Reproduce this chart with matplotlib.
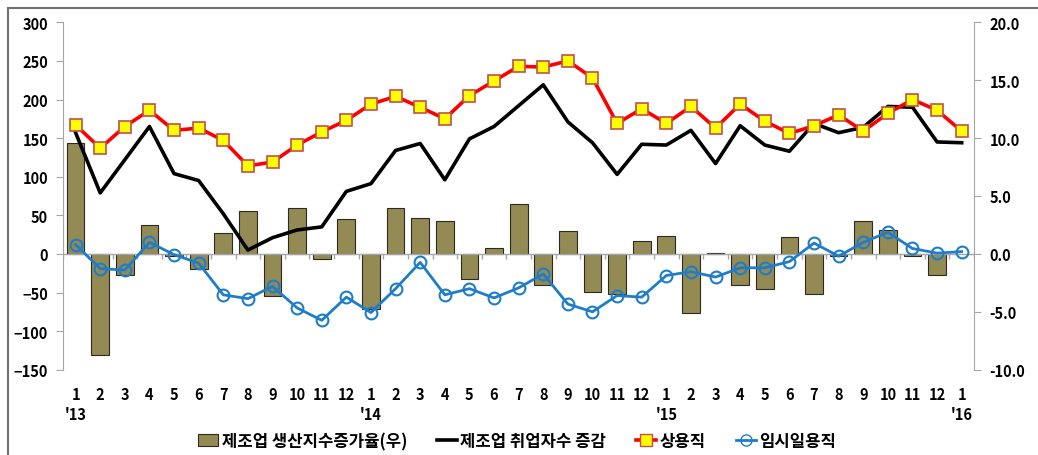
import numpy as np
import matplotlib
matplotlib.use('Agg')
import matplotlib.pyplot as plt
from matplotlib.lines import Line2D
from matplotlib.patches import Patch, Rectangle

plt.rcParams['font.family'] = ['Noto Sans CJK KR', 'DejaVu Sans']
plt.rcParams['font.weight'] = 'bold'

# 2013.1 ~ 2016.1
months = [1, 2, 3, 4, 5, 6, 7, 8, 9, 10, 11, 12] * 3 + [1]
years = {0: "'13", 12: "'14", 24: "'15", 36: "'16"}

# 제조업 생산지수증가율 (우축, %)
prod_growth = [9.6, -8.7, -1.8, 2.5, -0.15, -1.3, 1.8, 3.7, -3.6, 4.0, -0.4, 3.0,
               -4.75, 4.0, 3.1, 2.8, -2.2, 0.5, 4.3, -2.7, 2.0, -3.3, -3.5, 1.1,
               1.55, -5.1, 0.12, -2.7, -3.0, 1.5, -3.5, -0.15, 2.8, 2.1, -0.15, -1.8,
               np.nan]
# 제조업 취업자수 증감 (천명)
emp_total = [157, 79, 122, 165, 104, 95, 52, 5, 21, 31, 35, 81,
             91, 134, 143, 96, 149, 165, 192, 219, 171, 144, 103, 142,
             141, 160, 117, 166, 141, 133, 169, 157, 164, 191, 190, 145,
             144]
# 상용직
regular = [167, 137, 165, 186, 160, 163, 147, 114, 119, 141, 158, 173,
           194, 204, 190, 175, 205, 224, 243, 242, 250, 228, 169, 188,
           169, 191, 163, 194, 172, 156, 166, 180, 159, 182, 200, 186,
           159]
# 임시일용직
temporary = [12, -19, -21, 15, -1, -12, -53, -58, -42, -70, -86, -56,
             -76, -45, -11, -53, -45, -57, -44, -26, -65, -75, -54, -56,
             -28, -23, -30, -18, -18, -10, 14, -3, 15, 28, 7, 1,
             3]

x = np.arange(len(months))
gray = '#A6A6A6'

fig = plt.figure(figsize=(10.38, 4.56), dpi=100)
W, H = 1038, 456
ax = fig.add_axes([63.3 / W, 1 - 370.7 / H, (974 - 63.3) / W, (370.7 - 23.3) / H])
ax2 = ax.twinx()

ax2.bar(x, prod_growth, width=0.72, color='#948A54', edgecolor='#2B2B20', linewidth=0.8, zorder=2)
ax2.set_ylim(-10, 20)
ax2.set_yticks(np.arange(-10, 21, 5))
ax2.set_yticklabels(['%.1f' % v for v in np.arange(-10, 21, 5)])

ax.set_zorder(ax2.get_zorder() + 1)
ax.patch.set_visible(False)

ax.axhline(0, color=gray, lw=1, zorder=1)
ax.vlines(np.arange(-0.5, 37, 1), 0, -6, color=gray, lw=1, zorder=1)

ax.plot(x, emp_total, color='black', lw=2.6, zorder=3)
ax.plot(x, regular, color='#FF0000', lw=2.6, marker='s', ms=8,
        mfc='#FFFF00', mec='#C0504D', mew=1.2, zorder=4)
ax.plot(x, temporary, color='#1F7DC8', lw=2, marker='o', ms=8.5,
        mfc='none', mec='#1F7DC8', mew=1.5, zorder=4)

ax.set_xlim(-0.5, 36.5)
ax.set_ylim(-150, 300)
ax.set_yticks(np.arange(-150, 301, 50))

labels = []
for i, m in enumerate(months):
    labels.append(f"{m}\n{years[i]}" if i in years else str(m))
ax.set_xticks(x)
ax.set_xticklabels(labels, linespacing=1.25)
ax.tick_params(axis='x', length=0, pad=12, labelsize=10.5)
ax.tick_params(axis='y', length=5, color=gray, labelsize=10.5, pad=6)
ax2.tick_params(axis='y', length=5, color=gray, labelsize=10.5, pad=6)

for a in (ax, ax2):
    a.spines['top'].set_visible(False)
    a.spines['bottom'].set_visible(False)
    a.spines['left'].set_color(gray)
    a.spines['right'].set_color(gray)
ax2.spines['left'].set_visible(False)
ax.spines['right'].set_visible(False)

# 바깥 테두리
fig.add_artist(Line2D([7.5 / W, 7.5 / W], [0, 1 - 9 / H], color='#707070', lw=1.5))
fig.add_artist(Line2D([7.5 / W, 1], [1 - 9 / H, 1 - 9 / H], color='#707070', lw=1.5))

handles = [
    Patch(facecolor='#948A54', edgecolor='#2B2B20', linewidth=0.8),
    Line2D([], [], color='black', lw=2.6),
    Line2D([], [], color='#FF0000', lw=2.6, marker='s', ms=8, mfc='#FFFF00', mec='#C0504D'),
    Line2D([], [], color='#1F7DC8', lw=2, marker='o', ms=8, mfc='none', mec='#1F7DC8'),
]
names = ['제조업 생산지수증가율(우)', '제조업 취업자수 증감', '상용직', '임시일용직']
fig.legend(handles, names, loc='center', bbox_to_anchor=(517 / W, 1 - 442 / H), ncol=4,
           frameon=False, fontsize=12, handlelength=1.2, handletextpad=0.2,
           columnspacing=1.8, borderaxespad=0)

fig.savefig('out.png', dpi=100)
